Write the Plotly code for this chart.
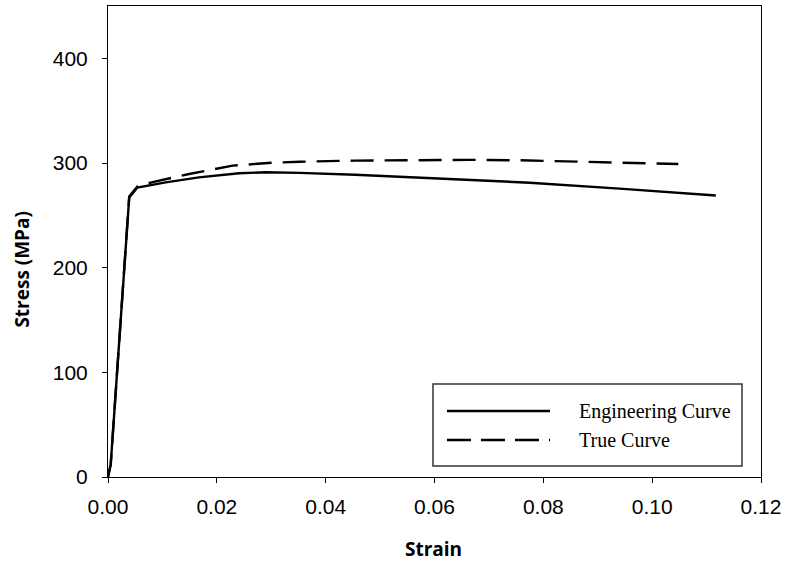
import plotly.graph_objects as go

# Engineering stress-strain curve
eng_strain = [0, 0.0005, 0.002, 0.0039, 0.0054, 0.0082, 0.0106, 0.0167, 0.0241, 0.029,
              0.0352, 0.0454, 0.0554, 0.0665, 0.0775, 0.094, 0.1117]
eng_stress = [0, 12, 125, 267, 276.5, 279.5, 281.5, 286.3, 290.2, 291.2,
              290.6, 288.8, 286.3, 283.8, 281.2, 275.5, 269]

# True stress-strain curve
true_strain = [0, 0.0005, 0.002, 0.0039, 0.0054, 0.0082, 0.0149, 0.0229, 0.0302, 0.0352,
               0.0454, 0.0554, 0.0665, 0.0757, 0.09, 0.1048]
true_stress = [0, 12, 125, 268, 277.5, 281.8, 289.5, 297.5, 300.3, 301.2,
               302.3, 302.8, 303, 302.6, 301, 299]

x_ticks = [0, 0.02, 0.04, 0.06, 0.08, 0.10, 0.12]
x_tick_text = ["0.00", "0.02", "0.04", "0.06", "0.08", "0.10", "0.12"]
y_ticks = [0, 100, 200, 300, 400]

series_names = ["Engineering Curve", "True Curve"]

fig = go.Figure()
fig.add_trace(go.Scatter(x=eng_strain, y=eng_stress, mode="lines", name=series_names[0],
                         line=dict(color="black", width=2.4), showlegend=False))
fig.add_trace(go.Scatter(x=true_strain, y=true_stress, mode="lines", name=series_names[1],
                         line=dict(color="black", width=2.4, dash="23px,11px"), showlegend=False))

axis_common = dict(showline=True, linecolor="black", linewidth=1, mirror=True,
                   ticks="outside", ticklen=5, tickcolor="black", tickwidth=1,
                   showgrid=False, zeroline=False,
                   tickfont=dict(family="Liberation Sans, Arial", size=21, color="black"))

fig.update_xaxes(range=[0, 0.12], tickvals=x_ticks, ticktext=x_tick_text,
                 ticklabelstandoff=6, **axis_common)
fig.update_yaxes(range=[0, 450], tickvals=y_ticks, ticklabelstandoff=10, **axis_common)

# Axis titles
title_font = dict(family="Open Sans, Noto Sans, sans-serif", size=19, color="black")
fig.add_annotation(text="<b>Strain</b>", xref="paper", yref="paper", x=0.498, y=-0.153,
                   showarrow=False, xanchor="center", yanchor="middle", font=title_font)
fig.add_annotation(text="<b>Stress (MPa)</b>", xref="paper", yref="paper", x=-0.132, y=0.442,
                   showarrow=False, xanchor="center", yanchor="middle", textangle=-90,
                   font=title_font)

# Legend drawn as a boxed key
fig.add_shape(type="rect", xref="paper", yref="paper", x0=0.4977, x1=0.9709, y0=0.0234, y1=0.1975,
              line=dict(color="#333333", width=1.5), fillcolor="white", layer="above")
fig.add_shape(type="line", xref="paper", yref="paper", x0=0.5191, x1=0.6769, y0=0.1401, y1=0.1401,
              line=dict(color="black", width=2.4), layer="above")
fig.add_shape(type="line", xref="paper", yref="paper", x0=0.5191, x1=0.6769, y0=0.0786, y1=0.0786,
              line=dict(color="black", width=2.4, dash="24px,10px"), layer="above")
legend_font = dict(family="Liberation Serif, Times New Roman, serif", size=20, color="black")
fig.add_annotation(text=series_names[0], xref="paper", yref="paper", x=0.7182, y=0.1401,
                   showarrow=False, xanchor="left", yanchor="middle", font=legend_font)
fig.add_annotation(text=series_names[1], xref="paper", yref="paper", x=0.7182, y=0.0786,
                   showarrow=False, xanchor="left", yanchor="middle", font=legend_font)

fig.update_layout(width=786, height=567, margin=dict(l=108, r=25, t=6, b=90),
                  plot_bgcolor="white", paper_bgcolor="white", showlegend=False)

fig.write_html("out.html", config={"displayModeBar": False},
               post_script="document.body.style.margin='0';document.body.style.overflow='hidden';")
